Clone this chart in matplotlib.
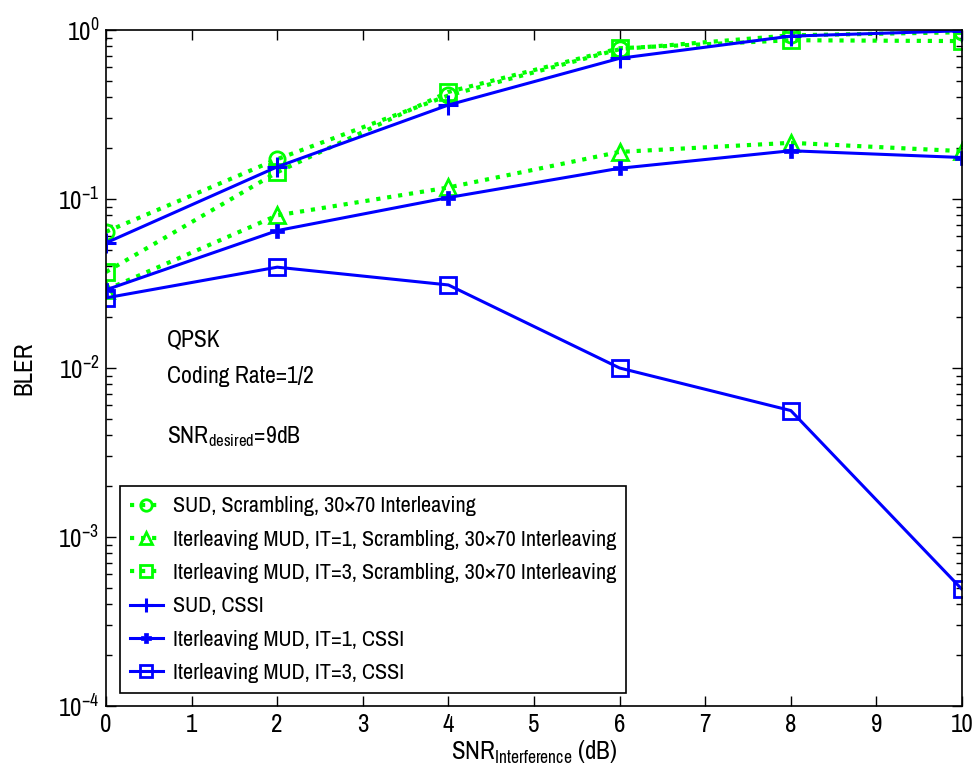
import matplotlib
matplotlib.use("Agg")
import matplotlib.pyplot as plt
from matplotlib.ticker import LogLocator, NullFormatter, FixedLocator
from matplotlib import font_manager

snr_interf = [0, 2, 4, 6, 8, 10]

sud_scr = [0.064, 0.172, 0.41, 0.77, 0.93, 0.97]
mud1_scr = [0.029, 0.080, 0.117, 0.190, 0.215, 0.192]
mud3_scr = [0.037, 0.144, 0.43, 0.78, 0.87, 0.86]
sud_cssi = [0.055, 0.155, 0.36, 0.68, 0.92, 0.99]
mud1_cssi = [0.029, 0.065, 0.102, 0.152, 0.193, 0.176]
mud3_cssi = [0.026, 0.0395, 0.031, 0.0100, 0.0056, 0.00049]

labels = [
    "SUD, Scrambling, 30\u00d770 Interleaving",
    "Iterleaving MUD, IT=1, Scrambling, 30\u00d770 Interleaving",
    "Iterleaving MUD, IT=3, Scrambling, 30\u00d770 Interleaving",
    "SUD, CSSI",
    "Iterleaving MUD, IT=1, CSSI",
    "Iterleaving MUD, IT=3, CSSI",
]

names = {f.name for f in font_manager.fontManager.ttflist}
fam = "Archivo Narrow" if "Archivo Narrow" in names else "Liberation Sans"
plt.rcParams['font.family'] = [fam, 'DejaVu Sans']
plt.rcParams['mathtext.fontset'] = 'custom'
plt.rcParams['mathtext.rm'] = fam
plt.rcParams['mathtext.it'] = fam
plt.rcParams['mathtext.default'] = 'regular'

FS = 18
green = '#00ff00'
blue = '#0000ff'

fig = plt.figure(figsize=(9.76, 7.82), dpi=100)
ax = fig.add_axes([106/976, 1-706/782, (962-106)/976, (706-30)/782])

ms = 11
ax.plot(snr_interf, sud_scr, ':', color=green, lw=3, marker='o', ms=ms, mfc='none', mew=2, label=labels[0])
ax.plot(snr_interf, mud1_scr, ':', color=green, lw=3, marker='^', ms=ms+1, mfc='none', mew=2, label=labels[1])
ax.plot(snr_interf, mud3_scr, ':', color=green, lw=3, marker='s', ms=ms, mfc='none', mew=2, label=labels[2])
ax.plot(snr_interf, sud_cssi, '-', color=blue, lw=2.2, marker='+', ms=ms+3, mew=2.2, label=labels[3])
ax.plot(snr_interf, mud1_cssi, '-', color=blue, lw=2.2, marker='P', ms=ms-1, mew=0.5, label=labels[4])
ax.plot(snr_interf, mud3_cssi, '-', color=blue, lw=2.2, marker='s', ms=ms+1, mfc='none', mew=2, label=labels[5])

ax.set_yscale('log')
ax.set_ylim(1e-4, 1)
ax.set_xlim(0, 10)
ax.xaxis.set_major_locator(FixedLocator(range(0, 11)))
ax.yaxis.set_major_locator(LogLocator(base=10, numticks=10))
ax.yaxis.set_minor_locator(LogLocator(base=10, subs=range(2, 10), numticks=20))
ax.yaxis.set_minor_formatter(NullFormatter())
ax.tick_params(which='both', direction='in', top=True, right=True, labelsize=FS)
ax.tick_params(which='major', length=7, width=1, pad=5)
ax.tick_params(which='minor', length=4, width=1)
for s in ax.spines.values():
    s.set_linewidth(1.2)

ax.set_xlabel(r'SNR$_{\mathregular{Interference}}$ (dB)', fontsize=FS, labelpad=2)
ax.set_ylabel('BLER', fontsize=FS, labelpad=16)

TS = 17
ax.text(0.071, 0.541, 'QPSK', transform=ax.transAxes, fontsize=TS, va='center')
ax.text(0.071, 0.488, 'Coding Rate=1/2', transform=ax.transAxes, fontsize=TS, va='center')
ax.text(0.071, 0.398, r'SNR$_{\mathregular{desired}}$=9dB', transform=ax.transAxes, fontsize=TS, va='center')

leg = ax.legend(loc='lower left', bbox_to_anchor=(0.016, 0.019), fontsize=16, frameon=True,
                fancybox=False, edgecolor='black', framealpha=1, borderpad=0.45,
                labelspacing=0.6, handlelength=1.5, handletextpad=0.45, borderaxespad=0,
                markerscale=0.75)
leg.get_frame().set_linewidth(1.2)

fig.savefig('out.png', dpi=100)
